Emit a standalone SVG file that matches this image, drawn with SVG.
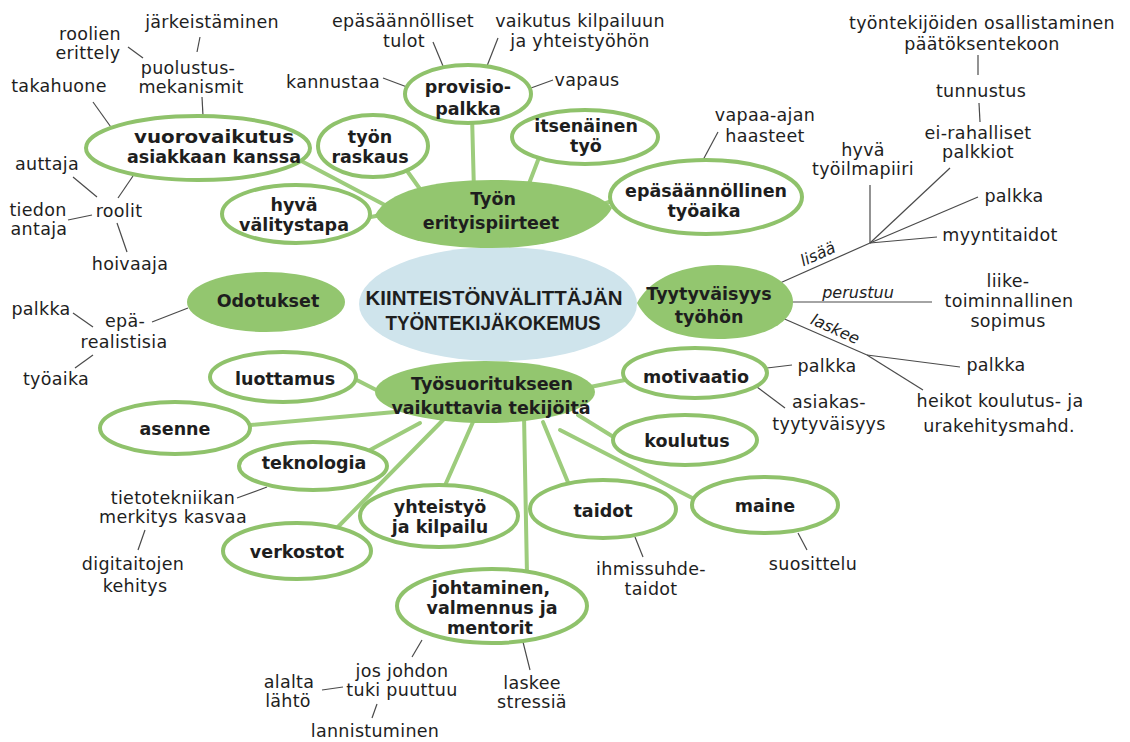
<svg xmlns="http://www.w3.org/2000/svg" width="1130" height="742" viewBox="0 0 1130 742">
  <style>
    .bg { fill: #ffffff; }
    .leaf { fill: #ffffff; stroke: #8fc26b; stroke-width: 4; }
    .hub { fill: #93c66f; stroke: none; }
    .core { fill: #cfe4ec; stroke: none; }
    .branch { stroke: #9dcc7c; stroke-width: 4; stroke-linecap: round; fill: none; }
    .thin { stroke: #4a4a4a; stroke-width: 1.2; fill: none; }
    text { font-family: "DejaVu Sans", Verdana, sans-serif; fill: #1e1e1e; text-anchor: middle; }
    .t { font-size: 17.5px; letter-spacing: 0.3px; }
    .b { font-size: 17.5px; font-weight: bold; }
    .i { font-size: 16px; font-style: italic; }
    .c { font-family: "Liberation Sans", Arial, sans-serif; font-size: 21px; font-weight: bold; }
  </style>

  <rect class="bg" x="0" y="0" width="1130" height="742"/>

  <!-- connectors: drawn first so that node fills cover the ends -->
  <g id="connectors">
    <!-- green branches around "Työn erityispiirteet" -->
    <line class="branch" x1="290" y1="155" x2="398" y2="212"/>
    <line class="branch" x1="405" y1="168" x2="425" y2="196"/>
    <line class="branch" x1="472" y1="115" x2="474" y2="192"/>
    <line class="branch" x1="540" y1="155" x2="525" y2="194"/>
    <line class="branch" x1="360" y1="219" x2="392" y2="213"/>
    <line class="branch" x1="620" y1="198" x2="598" y2="206"/>
    <!-- green branches around "Työsuoritukseen vaikuttavia tekijöitä" -->
    <line class="branch" x1="345" y1="374" x2="392" y2="398"/>
    <line class="branch" x1="240" y1="426" x2="395" y2="412"/>
    <line class="branch" x1="370" y1="450" x2="420" y2="423"/>
    <line class="branch" x1="330" y1="535" x2="445" y2="418"/>
    <line class="branch" x1="443" y1="490" x2="473" y2="422"/>
    <line class="branch" x1="527" y1="575" x2="524" y2="415"/>
    <line class="branch" x1="572" y1="492" x2="543" y2="422"/>
    <line class="branch" x1="700" y1="502" x2="560" y2="430"/>
    <line class="branch" x1="620" y1="441" x2="578" y2="415"/>
    <line class="branch" x1="630" y1="379" x2="585" y2="388"/>

    <!-- thin leader lines -->
    <line class="thin" x1="200" y1="37" x2="197" y2="52"/>
    <line class="thin" x1="128" y1="47" x2="143" y2="58"/>
    <line class="thin" x1="202" y1="97" x2="203" y2="116"/>
    <line class="thin" x1="93" y1="102" x2="113" y2="130"/>
    <line class="thin" x1="73" y1="177" x2="97" y2="197"/>
    <line class="thin" x1="68" y1="220" x2="92" y2="215"/>
    <line class="thin" x1="118" y1="198" x2="133" y2="176"/>
    <line class="thin" x1="117" y1="223" x2="127" y2="252"/>
    <line class="thin" x1="433" y1="42" x2="443" y2="66"/>
    <line class="thin" x1="498" y1="38" x2="487" y2="66"/>
    <line class="thin" x1="383" y1="78" x2="407" y2="87"/>
    <line class="thin" x1="531" y1="88" x2="553" y2="80"/>
    <line class="thin" x1="718" y1="132" x2="703" y2="160"/>
    <line class="thin" x1="978" y1="55" x2="978" y2="75"/>
    <line class="thin" x1="979" y1="103" x2="980" y2="122"/>
    <line class="thin" x1="870" y1="185" x2="870" y2="243"/>
    <line class="thin" x1="950" y1="168" x2="870" y2="243"/>
    <line class="thin" x1="978" y1="197" x2="870" y2="243"/>
    <line class="thin" x1="937" y1="237" x2="870" y2="243"/>
    <line class="thin" x1="780" y1="283" x2="870" y2="243"/>
    <line class="thin" x1="790" y1="302" x2="932" y2="302"/>
    <line class="thin" x1="780" y1="317" x2="867" y2="355"/>
    <line class="thin" x1="867" y1="355" x2="960" y2="367"/>
    <line class="thin" x1="867" y1="355" x2="923" y2="390"/>
    <line class="thin" x1="767" y1="368" x2="792" y2="365"/>
    <line class="thin" x1="757" y1="387" x2="785" y2="408"/>
    <line class="thin" x1="635" y1="537" x2="643" y2="557"/>
    <line class="thin" x1="798" y1="533" x2="807" y2="550"/>
    <line class="thin" x1="422" y1="640" x2="412" y2="657"/>
    <line class="thin" x1="322" y1="690" x2="343" y2="687"/>
    <line class="thin" x1="377" y1="704" x2="372" y2="718"/>
    <line class="thin" x1="523" y1="642" x2="530" y2="670"/>
    <line class="thin" x1="267" y1="487" x2="237" y2="498"/>
    <line class="thin" x1="145" y1="530" x2="138" y2="550"/>
    <line class="thin" x1="152" y1="322" x2="188" y2="308"/>
    <line class="thin" x1="73" y1="313" x2="93" y2="327"/>
    <line class="thin" x1="93" y1="355" x2="75" y2="368"/>

    <!-- relation words on the satisfaction branches -->
    <text class="i" transform="translate(820,259) rotate(-24)">lisää</text>
    <text class="i" x="858" y="298">perustuu</text>
    <text class="i" transform="translate(833,334) rotate(24)">laskee</text>
  </g>

  <!-- centre -->
  <g id="n-core">
    <ellipse class="core" cx="498" cy="304" rx="139" ry="57"/>
    <text class="c" x="494" y="305" textLength="257" lengthAdjust="spacingAndGlyphs">KIINTEISTÖNVÄLITTÄJÄN</text>
    <text class="c" x="493" y="330" textLength="215" lengthAdjust="spacingAndGlyphs">TYÖNTEKIJÄKOKEMUS</text>
  </g>

  <!-- main themes -->
  <g id="n-erityispiirteet">
    <path class="hub" d="M375,215 C388,191 432,180 492,180 C556,180 600,192 612,208 C600,231 556,248 492,248 C432,248 388,238 375,215 Z"/>
    <text class="b" x="493" y="205">Työn</text>
    <text class="b" x="491" y="229">erityispiirteet</text>
  </g>
  <g id="n-odotukset">
    <ellipse class="hub" cx="266" cy="302" rx="79" ry="30"/>
    <text class="b" x="268" y="307">Odotukset</text>
  </g>
  <g id="n-tyytyvaisyys">
    <path class="hub" d="M637,303 C648,282 675,266 718,265 C765,265 793,283 793,302 C793,322 765,339 718,339 C675,339 648,325 637,303 Z"/>
    <text class="b" x="709" y="300">Tyytyväisyys</text>
    <text class="b" x="709" y="323">työhön</text>
  </g>
  <g id="n-tyosuoritus">
    <ellipse class="hub" cx="485" cy="392" rx="110" ry="31"/>
    <text class="b" x="492" y="390">Työsuoritukseen</text>
    <text class="b" x="491" y="414">vaikuttavia tekijöitä</text>
  </g>

  <!-- work characteristics -->
  <g id="n-vuorovaikutus">
    <ellipse class="leaf" cx="198" cy="148" rx="112" ry="32"/>
    <text class="b" x="214" y="143" textLength="160" lengthAdjust="spacingAndGlyphs">vuorovaikutus</text>
    <text class="b" x="214" y="163">asiakkaan kanssa</text>
  </g>
  <g id="n-raskaus">
    <ellipse class="leaf" cx="373" cy="146" rx="55" ry="31"/>
    <text class="b" x="370" y="143">työn</text>
    <text class="b" x="370" y="163">raskaus</text>
  </g>
  <g id="n-provisio">
    <ellipse class="leaf" cx="468" cy="94" rx="63" ry="29"/>
    <text class="b" x="468" y="93">provisio-</text>
    <text class="b" x="468" y="115">palkka</text>
  </g>
  <g id="n-itsenainen">
    <ellipse class="leaf" cx="585" cy="137" rx="73" ry="27"/>
    <text class="b" x="586" y="132">itsenäinen</text>
    <text class="b" x="586" y="152">työ</text>
  </g>
  <g id="n-valitystapa">
    <ellipse class="leaf" cx="296" cy="214" rx="74" ry="29"/>
    <text class="b" x="294" y="211">hyvä</text>
    <text class="b" x="294" y="231">välitystapa</text>
  </g>
  <g id="n-tyoaika">
    <ellipse class="leaf" cx="706" cy="197" rx="96" ry="37"/>
    <text class="b" x="706" y="197">epäsäännöllinen</text>
    <text class="b" x="704" y="217">työaika</text>
  </g>

  <!-- performance factors -->
  <g id="n-luottamus">
    <ellipse class="leaf" cx="283" cy="377" rx="73" ry="25"/>
    <text class="b" x="285" y="385">luottamus</text>
  </g>
  <g id="n-asenne">
    <ellipse class="leaf" cx="175" cy="428" rx="75" ry="26"/>
    <text class="b" x="175" y="435">asenne</text>
  </g>
  <g id="n-teknologia">
    <ellipse class="leaf" cx="313" cy="466" rx="74" ry="24"/>
    <text class="b" x="314" y="469">teknologia</text>
  </g>
  <g id="n-verkostot">
    <ellipse class="leaf" cx="297" cy="551" rx="74" ry="28"/>
    <text class="b" x="297" y="558">verkostot</text>
  </g>
  <g id="n-yhteistyo">
    <ellipse class="leaf" cx="439" cy="516" rx="79" ry="31"/>
    <text class="b" x="440" y="513">yhteistyö</text>
    <text class="b" x="440" y="533">ja kilpailu</text>
  </g>
  <g id="n-johtaminen">
    <ellipse class="leaf" cx="492" cy="606" rx="95" ry="37"/>
    <text class="b" x="491" y="594">johtaminen,</text>
    <text class="b" x="492" y="614">valmennus ja</text>
    <text class="b" x="490" y="634">mentorit</text>
  </g>
  <g id="n-taidot">
    <ellipse class="leaf" cx="603" cy="509" rx="73" ry="29"/>
    <text class="b" x="603" y="517">taidot</text>
  </g>
  <g id="n-maine">
    <ellipse class="leaf" cx="765" cy="505" rx="73" ry="28"/>
    <text class="b" x="765" y="512">maine</text>
  </g>
  <g id="n-motivaatio">
    <ellipse class="leaf" cx="695" cy="373" rx="72" ry="25"/>
    <text class="b" x="696" y="383">motivaatio</text>
  </g>
  <g id="n-koulutus">
    <ellipse class="leaf" cx="685" cy="440" rx="72" ry="25"/>
    <text class="b" x="687" y="447">koulutus</text>
  </g>

  <!-- free-standing notes -->
  <g id="n-jarkeistaminen"><text class="t" x="212" y="28">järkeistäminen</text></g>
  <g id="n-roolien"><text class="t" x="90" y="40">roolien</text><text class="t" x="88" y="59">erittely</text></g>
  <g id="n-puolustus"><text class="t" x="188" y="74">puolustus-</text><text class="t" x="191" y="93">mekanismit</text></g>
  <g id="n-takahuone"><text class="t" x="59" y="92">takahuone</text></g>
  <g id="n-auttaja"><text class="t" x="47" y="170">auttaja</text></g>
  <g id="n-roolit"><text class="t" x="119" y="217">roolit</text></g>
  <g id="n-tiedon"><text class="t" x="38" y="216">tiedon</text><text class="t" x="39" y="235">antaja</text></g>
  <g id="n-hoivaaja"><text class="t" x="130" y="270">hoivaaja</text></g>
  <g id="n-tulot"><text class="t" x="403" y="27">epäsäännölliset</text><text class="t" x="404" y="47">tulot</text></g>
  <g id="n-kilpailu"><text class="t" x="580" y="27">vaikutus kilpailuun</text><text class="t" x="580" y="47">ja yhteistyöhön</text></g>
  <g id="n-kannustaa"><text class="t" x="333" y="88">kannustaa</text></g>
  <g id="n-vapaus"><text class="t" x="587" y="86">vapaus</text></g>
  <g id="n-vapaa-aika"><text class="t" x="765" y="121">vapaa-ajan</text><text class="t" x="765" y="142">haasteet</text></g>
  <g id="n-osallistaminen"><text class="t" x="982" y="29">työntekijöiden osallistaminen</text><text class="t" x="982" y="50">päätöksentekoon</text></g>
  <g id="n-tunnustus"><text class="t" x="981" y="97">tunnustus</text></g>
  <g id="n-palkkiot"><text class="t" x="978" y="139">ei-rahalliset</text><text class="t" x="978" y="158">palkkiot</text></g>
  <g id="n-tyoilmapiiri"><text class="t" x="863" y="156">hyvä</text><text class="t" x="863" y="175">työilmapiiri</text></g>
  <g id="n-palkka-lisaa"><text class="t" x="1014" y="202">palkka</text></g>
  <g id="n-myyntitaidot"><text class="t" x="1000" y="241">myyntitaidot</text></g>
  <g id="n-sopimus"><text class="t" x="1008" y="287">liike-</text><text class="t" x="1009" y="307">toiminnallinen</text><text class="t" x="1008" y="327">sopimus</text></g>
  <g id="n-palkka-laskee"><text class="t" x="996" y="371">palkka</text></g>
  <g id="n-urakehitys"><text class="t" x="1000" y="407">heikot koulutus- ja</text><text class="t" x="999" y="432">urakehitysmahd.</text></g>
  <g id="n-palkka-motivaatio"><text class="t" x="827" y="372">palkka</text></g>
  <g id="n-asiakastyytyvaisyys"><text class="t" x="829" y="408">asiakas-</text><text class="t" x="829" y="430">tyytyväisyys</text></g>
  <g id="n-ihmissuhdetaidot"><text class="t" x="651" y="575">ihmissuhde-</text><text class="t" x="651" y="595">taidot</text></g>
  <g id="n-suosittelu"><text class="t" x="813" y="570">suosittelu</text></g>
  <g id="n-johdon-tuki"><text class="t" x="402" y="677">jos johdon</text><text class="t" x="402" y="696">tuki puuttuu</text></g>
  <g id="n-alalta-lahto"><text class="t" x="289" y="688">alalta</text><text class="t" x="288" y="707">lähtö</text></g>
  <g id="n-lannistuminen"><text class="t" x="375" y="737">lannistuminen</text></g>
  <g id="n-stressi"><text class="t" x="532" y="689">laskee</text><text class="t" x="532" y="708">stressiä</text></g>
  <g id="n-tietotekniikka"><text class="t" x="173" y="504">tietotekniikan</text><text class="t" x="173" y="523">merkitys kasvaa</text></g>
  <g id="n-digitaidot"><text class="t" x="133" y="570">digitaitojen</text><text class="t" x="135" y="592">kehitys</text></g>
  <g id="n-palkka-odotus"><text class="t" x="41" y="315">palkka</text></g>
  <g id="n-epärealistisia"><text class="t" x="125" y="327">epä-</text><text class="t" x="124" y="348">realistisia</text></g>
  <g id="n-tyoaika-odotus"><text class="t" x="56" y="385">työaika</text></g>
</svg>
